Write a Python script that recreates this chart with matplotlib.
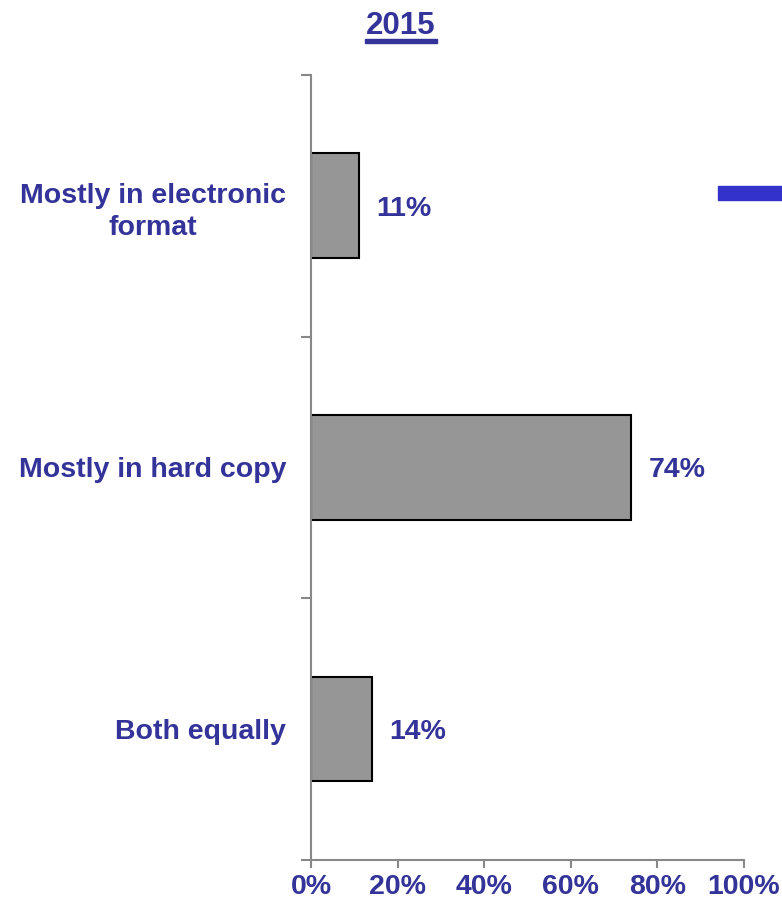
import matplotlib.pyplot as plt
import matplotlib as mpl
from matplotlib.patches import Rectangle
import numpy as np

mpl.rcParams['font.family'] = ['Liberation Sans', 'DejaVu Sans']
mpl.rcParams['font.weight'] = 'bold'

# Data
categories = ['Mostly in electronic\nformat', 'Mostly in hard copy', 'Both equally']
shares = [11, 74, 14]
xticks = [0, 20, 40, 60, 80, 100]

text_color = '#333399'
axis_color = '#888888'
fs = 20.5

fig = plt.figure(figsize=(7.82, 9.02), dpi=100)
ax = fig.add_axes([0.3977, 0.0466, 0.5537, 0.8703])

ypos = np.arange(len(categories))
ax.barh(ypos, shares, height=0.4, color='#969696', edgecolor='black', linewidth=1.5)
ax.set_ylim(len(categories) - 0.5, -0.5)
ax.set_xlim(0, 100)

# value labels next to each bar
for y, v in zip(ypos, shares):
    ax.text(v + 4, y, f'{v}%', va='center_baseline', ha='left', fontsize=fs,
            fontweight='bold', color=text_color)

ax.set_yticks(ypos)
ax.set_yticklabels(categories, fontsize=fs, fontweight='bold', color=text_color,
                   multialignment='center', linespacing=1.3)
ax.set_yticks(np.arange(-0.5, len(categories)), minor=True)
ax.tick_params(axis='y', which='major', length=0, pad=18)
ax.tick_params(axis='y', which='minor', length=7, width=1.5, color=axis_color)

ax.set_xticks(xticks)
ax.set_xticklabels([f'{t}%' for t in xticks], fontsize=fs, fontweight='bold',
                   color=text_color)
ax.tick_params(axis='x', length=6, width=1.5, color=axis_color, pad=4)

for side in ['top', 'right']:
    ax.spines[side].set_visible(False)
for side in ['left', 'bottom']:
    ax.spines[side].set_color(axis_color)
    ax.spines[side].set_linewidth(1.5)

# title with underline
fig.text(401 / 782, 1 - 26 / 902, '2015', ha='center', va='center', fontsize=22.5,
         fontweight='bold', color=text_color)
fig.add_artist(Rectangle((365 / 782, 1 - 43 / 902), 72 / 782, 4 / 902,
                         transform=fig.transFigure, color=text_color))

# legend swatch at the right edge
fig.add_artist(Rectangle((718 / 782, 1 - 200 / 902), 64 / 782, 14 / 902,
                         transform=fig.transFigure, color='#3333CC'))

fig.savefig('out.png', dpi=100)
